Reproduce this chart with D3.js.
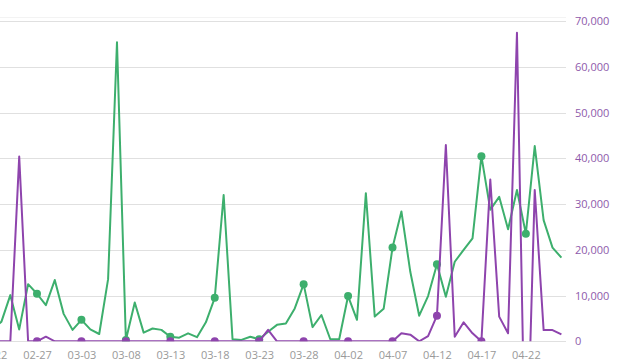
<!DOCTYPE html>
<html>
<head>
<meta charset="utf-8">
<script src="https://d3js.org/d3.v7.min.js"></script>
<style>
  body { margin: 0; background: #fff; }
  text { font-family: "Open Sans", sans-serif; }
</style>
</head>
<body>
<div id="chart-area"></div>
<script>
// categories: one per day, 2020-02-22 .. 2020-04-26
const dates = [
    "02-22","02-23","02-24","02-25","02-26","02-27","02-28","02-29",
    "03-01","03-02","03-03","03-04","03-05","03-06","03-07","03-08","03-09","03-10",
    "03-11","03-12","03-13","03-14","03-15","03-16","03-17","03-18","03-19","03-20",
    "03-21","03-22","03-23","03-24","03-25","03-26","03-27","03-28","03-29","03-30","03-31",
    "04-01","04-02","04-03","04-04","04-05","04-06","04-07","04-08","04-09","04-10",
    "04-11","04-12","04-13","04-14","04-15","04-16","04-17","04-18","04-19","04-20",
    "04-21","04-22","04-23","04-24","04-25","04-26"
]

// green series
const greenValues = [
    2500, 4300, 10100, 2600, 12500, 10400, 7900, 13400, 6000, 2500,
    4700, 2600, 1600, 13600, 65400, 300, 8500, 1900, 2800, 2500,
    1000, 800, 1750, 900, 4150, 9500, 32000, 450, 300, 1000,
    450, 2100, 3600, 3900, 7200, 12500, 3100, 5750, 450, 450,
    9900, 4700, 32400, 5400, 7100, 20500, 28400, 15200, 5600, 9900,
    16850, 9750, 17400, 20000, 22500, 40500, 28800, 31600, 24500, 33100,
    23550, 42700, 26500, 20500, 18300
]

// purple series (04-22 dips below the axis and gets clipped)
const purpleValues = [
    0, 0, 0, 40400, 0, 0, 1000, 0, 0, 0,
    0, 0, 0, 0, 0, 0, 0, 0, 0, 0,
    0, 0, 0, 0, 0, 0, 0, 0, 0, 0,
    0, 2500, 0, 0, 0, 0, 0, 0, 0, 0,
    0, 0, 0, 0, 0, 0, 1750, 1450, 0, 1150,
    5600, 42950, 1000, 4150, 1750, 0, 35400, 5400, 1750, 67500,
    -35000, 33100, 2450, 2450, 1500
]

const yTicks = [0, 10000, 20000, 30000, 40000, 50000, 60000, 70000]

const width = 638
const height = 363
const plotLeft = 0
const plotRight = 566
const plotTop = 21.3
const plotBottom = 341.3

const svg = d3.select("#chart-area").append("svg")
    .attr("width", width)
    .attr("height", height)

// x: point per day, first day sits just left of the visible area
const x = d3.scalePoint()
    .domain(dates)
    .range([-7.45, 561.4])

const y = d3.scaleLinear()
    .domain([0, 70000])
    .range([plotBottom, plotTop])

svg.append("clipPath").attr("id", "plot-clip")
    .append("rect")
    .attr("x", plotLeft)
    .attr("y", plotTop - 5)
    .attr("width", plotRight - plotLeft)
    .attr("height", plotBottom - plotTop + 5)

// faint top border
svg.append("line")
    .attr("x1", 0).attr("x2", plotRight)
    .attr("y1", 17.5).attr("y2", 17.5)
    .attr("stroke", "#f3f3f3")

// horizontal grid lines
svg.append("g").selectAll("line")
    .data(yTicks)
    .enter().append("line")
    .attr("x1", plotLeft)
    .attr("x2", plotRight)
    .attr("y1", d => Math.round(y(d)) + 0.5)
    .attr("y2", d => Math.round(y(d)) + 0.5)
    .attr("stroke", "#e0e0e0")

// right axis labels
const yAxis = d3.axisRight(y)
    .tickValues(yTicks)
    .tickFormat(d3.format(","))
    .tickSize(0)
    .tickPadding(9)

svg.append("g")
    .attr("transform", `translate(${plotRight},0)`)
    .call(yAxis)
    .call(g => g.select(".domain").remove())
    .call(g => g.selectAll("text")
        .attr("fill", "#8e5aab")
        .style("font-size", "11px")
        .style("font-family", "'Open Sans', sans-serif"))

// bottom axis, label every 5th day
const xAxis = d3.axisBottom(x)
    .tickValues(dates.filter((d, i) => i % 5 === 0))
    .tickSize(0)
    .tickPadding(10)

svg.append("g")
    .attr("transform", `translate(0,${plotBottom})`)
    .call(xAxis)
    .call(g => g.select(".domain").remove())
    .call(g => g.selectAll("text")
        .attr("fill", "#999")
        .style("font-size", "11px")
        .style("font-family", "'Open Sans', sans-serif"))

const series = [
    { values: greenValues, color: "#3daf6d" },
    { values: purpleValues, color: "#8e44ad" }
]

const line = d3.line()
    .x((d, i) => x(dates[i]))
    .y(d => y(d))

const plot = svg.append("g").attr("clip-path", "url(#plot-clip)")

series.forEach(s => {
    plot.append("path")
        .datum(s.values)
        .attr("d", line)
        .attr("fill", "none")
        .attr("stroke", s.color)
        .attr("stroke-width", 2)
        .attr("stroke-linejoin", "round")

    // symbols only on the labelled days
    plot.selectAll(null)
        .data(s.values.map((v, i) => ({ v, i })).filter(d => d.i % 5 === 0))
        .enter().append("circle")
        .attr("cx", d => x(dates[d.i]))
        .attr("cy", d => y(d.v))
        .attr("r", 4)
        .attr("fill", s.color)
})
</script>
</body>
</html>
